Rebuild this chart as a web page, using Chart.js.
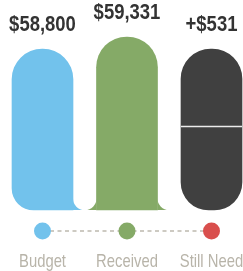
<!DOCTYPE html>
<html>
<head>
<meta charset="utf-8">
<script src="https://cdn.jsdelivr.net/npm/chart.js@4/dist/chart.umd.min.js"></script>
<style>
  html, body { margin: 0; padding: 0; background: #ffffff; }
  #wrap { position: relative; width: 243px; height: 271px; }
</style>
</head>
<body>
<div id="wrap"><canvas id="c"></canvas></div>
<script>
// ---- data ----
const categories = ['Budget', 'Received', 'Still Need'];
const amounts = [58800, 59331, 531];          // values shown as labels
const barValues = [58800, 59331, 58800];      // bar heights as drawn (Still Need capsule drawn at budget level)
const amountLabels = ['$58,800', '$59,331', '+$531'];
const Y_MIN = 51700;
const Y_MAX = 59331;

// ---- styles ----
const barColors = ['#72c2ec', '#85aa67', '#404040'];
const dotColors = ['#72c2ec', '#85aa67', '#d94f4d'];
const radii = [
  { topLeft: 30.5, topRight: 30.5, bottomLeft: 22, bottomRight: 0 },
  { topLeft: 30.5, topRight: 30.5, bottomLeft: 0, bottomRight: 0 },
  { topLeft: 30, topRight: 30, bottomLeft: 28, bottomRight: 28 }
];
const flareLeft = [false, true, false];
const flareRight = [true, true, false];
const splitBar = [false, false, true];
const FLARE_R = 11.5;
const FONT = "'Liberation Sans', Arial, sans-serif";

function narrowText(ctx, text, x, y, font, sx, color) {
  ctx.save();
  ctx.translate(x, y);
  ctx.scale(sx, 1);
  ctx.font = font;
  ctx.fillStyle = color;
  ctx.textAlign = 'center';
  ctx.textBaseline = 'alphabetic';
  ctx.fillText(text, 0, 0);
  ctx.restore();
}

const decorPlugin = {
  id: 'decor',
  afterDatasetsDraw(chart) {
    const ctx = chart.ctx;
    const meta = chart.getDatasetMeta(0);
    meta.data.forEach((bar, i) => {
      const half = bar.width / 2;
      const left = bar.x - half, right = bar.x + half;
      const base = bar.base;
      const r = FLARE_R;
      ctx.save();
      ctx.fillStyle = barColors[i];
      if (flareRight[i]) {
        ctx.beginPath();
        ctx.moveTo(right, base - r);
        ctx.lineTo(right, base);
        ctx.lineTo(right + r, base);
        ctx.arc(right + r, base - r, r, Math.PI / 2, Math.PI, false);
        ctx.closePath();
        ctx.fill();
      }
      if (flareLeft[i]) {
        ctx.beginPath();
        ctx.moveTo(left, base - r);
        ctx.lineTo(left, base);
        ctx.lineTo(left - r, base);
        ctx.arc(left - r, base - r, r, Math.PI / 2, 0, true);
        ctx.closePath();
        ctx.fill();
      }
      if (splitBar[i]) {
        const mid = (bar.y + base) / 2 - 3;
        ctx.strokeStyle = '#ececec';
        ctx.lineWidth = 1.5;
        ctx.beginPath();
        ctx.moveTo(left, mid);
        ctx.lineTo(right, mid);
        ctx.stroke();
      }
      ctx.restore();
      // value label above bar
      narrowText(ctx, amountLabels[i], bar.x, bar.y - 18, 'bold 22px ' + FONT, 0.84, '#333333');
    });
    // dots, dashed connector and category labels
    const xs = chart.scales.x;
    const y = chart.chartArea.bottom + 21;
    const x0 = xs.getPixelForValue(0), x1 = xs.getPixelForValue(categories.length - 1);
    ctx.save();
    ctx.strokeStyle = '#cdcac2';
    ctx.lineWidth = 2;
    ctx.setLineDash([4, 3.5]);
    ctx.beginPath();
    ctx.moveTo(x0, y);
    ctx.lineTo(x1, y);
    ctx.stroke();
    ctx.setLineDash([]);
    categories.forEach((c, i) => {
      const x = xs.getPixelForValue(i);
      ctx.fillStyle = dotColors[i];
      ctx.beginPath();
      ctx.arc(x, y, 8.5, 0, Math.PI * 2);
      ctx.fill();
      narrowText(ctx, c, x, y + 35.5, '19px ' + FONT, 0.78, '#b8b4a9');
    });
    ctx.restore();
  }
};

new Chart(document.getElementById('c'), {
  type: 'bar',
  data: {
    labels: categories,
    datasets: [{
      data: barValues,
      base: Y_MIN,
      backgroundColor: barColors,
      borderWidth: 0,
      borderSkipped: false,
      borderRadius: (c) => radii[c.dataIndex],
      barThickness: 61,
      clip: false
    }]
  },
  options: {
    responsive: true,
    maintainAspectRatio: false,
    animation: false,
    events: [],
    layout: { padding: { left: 42.5, right: 31.5, top: 37, bottom: 61 } },
    plugins: { legend: { display: false }, tooltip: { enabled: false } },
    scales: {
      x: { display: false, offset: false },
      y: { display: false, min: Y_MIN, max: Y_MAX }
    }
  },
  plugins: [decorPlugin]
});
</script>
</body>
</html>
